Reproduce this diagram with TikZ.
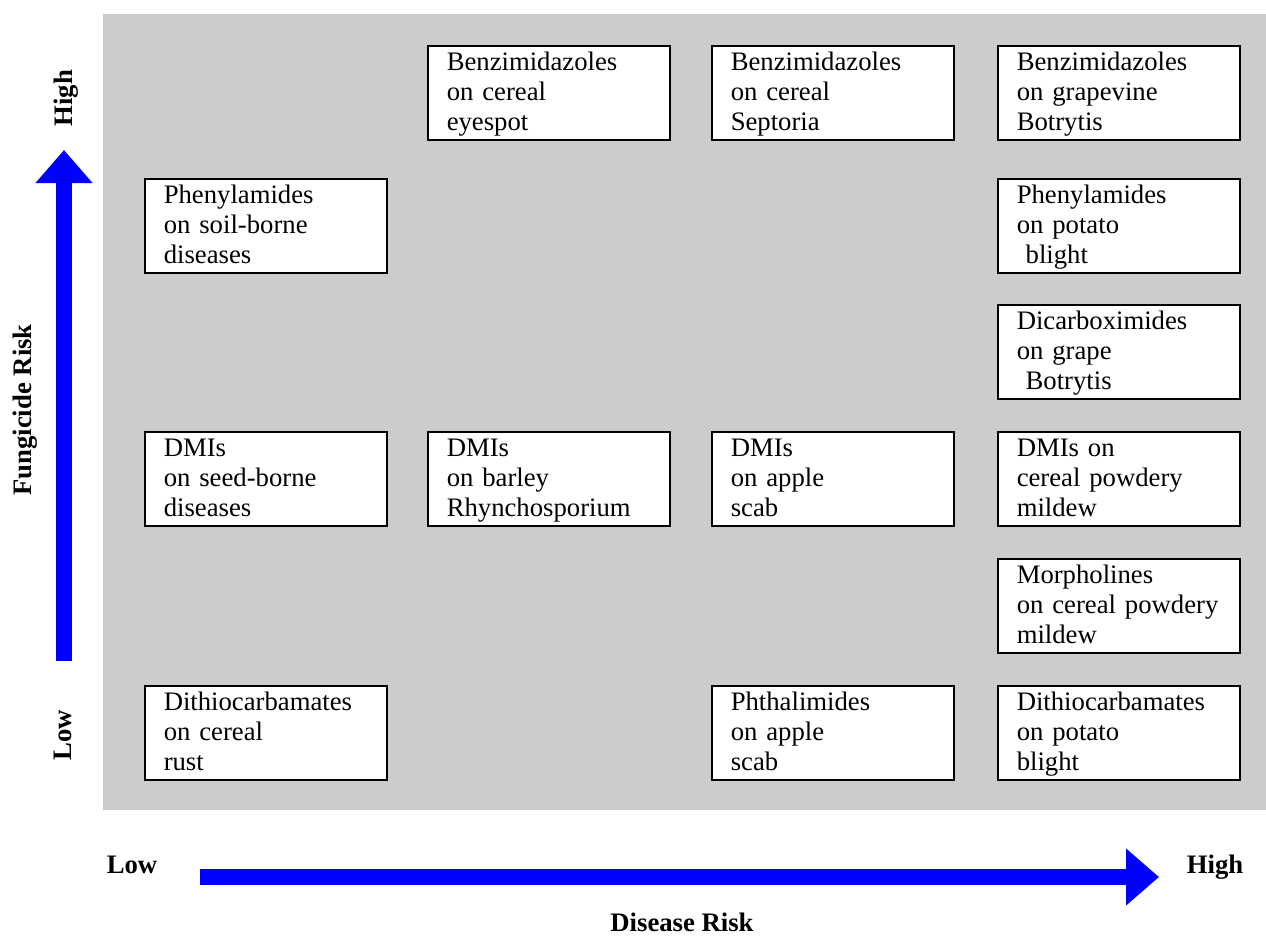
\documentclass[tikz,border=0pt]{standalone}
\usepackage{fontspec}
\setmainfont{Liberation Serif}
\usetikzlibrary{arrows.meta}
\usetikzlibrary{positioning}

\definecolor{cellgray}{HTML}{CCCCCC}
\newcommand{\cellstrut}{\rule[-7pt]{0pt}{29pt}}

\begin{document}
\begin{tikzpicture}[
    x=1pt, y=-1pt,
    font=\fontsize{26.7}{30}\selectfont
]
\tikzset{
    riskbox/.style = {draw=black, line width=1.5pt, fill=white, anchor=north west,
        minimum width=242pt, minimum height=94pt, text width=204pt,
        inner xsep=19pt, inner ysep=0pt, align=left,
        execute at begin node=\cellstrut, execute at end node=\cellstrut},
    axislabel/.style = {font=\fontsize{26.7}{30}\selectfont\bfseries, anchor=base},
    axisarrow/.style = {blue, line width=16pt,
        -{Triangle[width=55pt, length=33pt]}}
}
\useasboundingbox (0,0) rectangle (1266,938);
\fill[cellgray] (103,14) rectangle (1266,810);

% top row
\node[riskbox] at (427,45) (benzEye) {Benzimidazoles\\on cereal\\eyespot};
\node[riskbox] at (711,45) (benzSept) {Benzimidazoles\\on cereal\\Septoria};
\node[riskbox] at (997,45) (benzGrape) {Benzimidazoles\\on grapevine\\Botrytis};
\node[riskbox] at (144,178) (phenSoil) {Phenylamides\\on soil-borne\\diseases};
\node[riskbox] at (997,178) (phenPot) {Phenylamides\\on potato\\\ blight};
\node[riskbox] at (997,304) (dicarbGrape) {Dicarboximides\\on grape\\\ Botrytis};
% middle row
\node[riskbox] at (144,431) (dmiSeed) {DMIs\\on seed-borne\\diseases};
\node[riskbox] at (427,431) (dmiBarley) {DMIs\\on barley\\Rhynchosporium};
\node[riskbox] at (711,431) (dmiApple) {DMIs\\on apple\\scab};
\node[riskbox] at (997,431) (dmiCereal) {DMIs on\\cereal powdery\\mildew};
\node[riskbox] at (997,558) (morphCereal) {Morpholines\\on cereal powdery\\mildew};
% bottom row
\node[riskbox] at (144,685) (dithioCereal) {Dithiocarbamates\\on cereal\\rust};
\node[riskbox] at (711,685) (phthalApple) {Phthalimides\\on apple\\scab};
\node[riskbox] at (997,685) (dithioPot) {Dithiocarbamates\\on potato\\blight};

% axes
\coordinate (fungLow) at (64,661);
\coordinate (fungHigh) at (64,150);
\coordinate (disLow) at (200,877);
\coordinate (disHigh) at (1159,877);
\draw[axisarrow] (fungLow) -- (fungHigh);
\draw[axisarrow] (disLow) -- (disHigh);

\node[axislabel, rotate=90] at (72,98) (fungHighLbl) {High};
\node[axislabel, rotate=90] at (71,735) (fungLowLbl) {Low};
\node[axislabel, rotate=90] at (31,410) (fungLbl) {Fungicide Risk};
\node[axislabel] at (132,873) (disLowLbl) {Low};
\node[axislabel] at (1215,873) (disHighLbl) {High};
\node[axislabel] at (682,931) (disLbl) {Disease Risk};
\end{tikzpicture}
\end{document}
